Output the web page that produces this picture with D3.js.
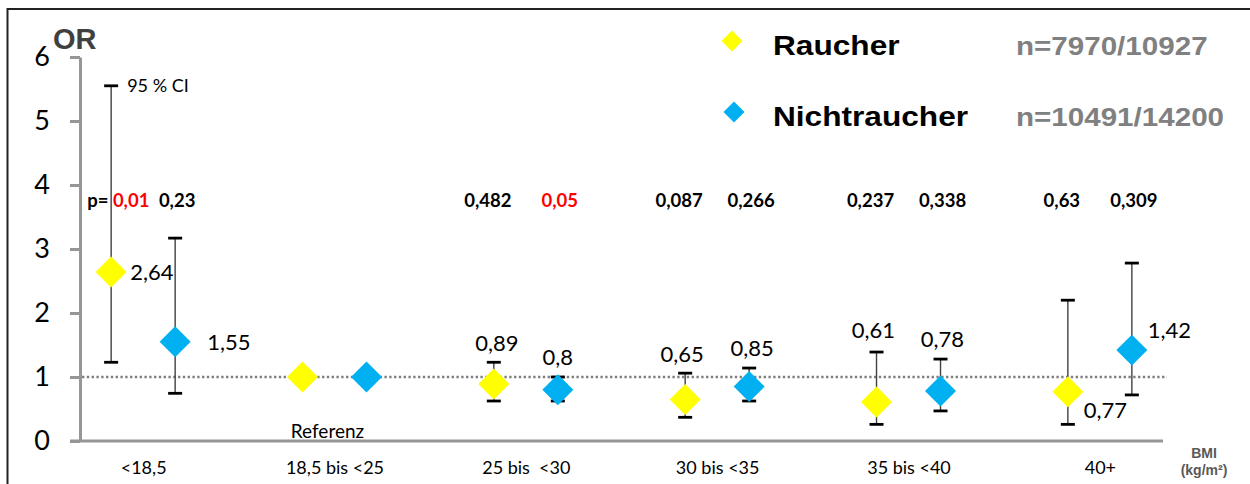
<!DOCTYPE html>
<html>
<head>
<meta charset="utf-8">
<script src="https://cdn.jsdelivr.net/npm/d3@7/dist/d3.min.js"></script>
<style>
  html, body { margin: 0; padding: 0; background: #fff; }
  svg { display: block; }
</style>
</head>
<body>
<svg id="chart" width="1250" height="484"></svg>
<script>
// ---------------- data ----------------
const categories = ["<18,5", "18,5 bis <25", "25 bis  <30", "30 bis <35", "35 bis <40", "40+"];
const seriesNames = ["Raucher", "Nichtraucher"];
const seriesN = ["n=7970/10927", "n=10491/14200"];
const rauchOR   = [2.64, 1, 0.89, 0.65, 0.61, 0.77];
const rauchLow  = [1.23, null, 0.625, 0.37, 0.26, 0.26];
const rauchHigh = [5.55, null, 1.23, 1.06, 1.39, 2.20];
const nichtOR   = [1.55, 1, 0.80, 0.85, 0.78, 1.42];
const nichtLow  = [0.745, null, 0.625, 0.625, 0.47, 0.72];
const nichtHigh = [3.17, null, 1.00, 1.14, 1.28, 2.78];
const rauchP = ["0,01", "", "0,482", "0,087", "0,237", "0,63"];
const nichtP = ["0,23", "", "0,05", "0,266", "0,338", "0,309"];
const rauchLabels = ["2,64", "", "0,89", "0,65", "0,61", "0,77"];
const nichtLabels = ["1,55", "", "0,8", "0,85", "0,78", "1,42"];
const yTicks = [0, 1, 2, 3, 4, 5, 6];
const referenceValue = 1;

// ---------------- layout / style ----------------
const colors = { Raucher: "#FFFF00", Nichtraucher: "#00B0F0" };
// label placement per point: [anchor, dx, dy relative (marker y or upper CI for "above")]
const labelLayout = {
  Raucher:      [["right", 19, 8], null, ["above", 3, -11], ["above", -3, -11], ["above", -3, -14], ["right", 16, 26]],
  Nichtraucher: [["right", 32, 8], null, ["above", 0, -12], ["above", 3, -12], ["above", 2, -12], ["right", 16, -12]]
};
const pDx = { Raucher: -6, Nichtraucher: 2 };

const series = [
  { name: "Raucher", or: rauchOR, low: rauchLow, high: rauchHigh, p: rauchP, lab: rauchLabels },
  { name: "Nichtraucher", or: nichtOR, low: nichtLow, high: nichtHigh, p: nichtP, lab: nichtLabels }
];

const svg = d3.select("#chart");

// frame
svg.append("rect").attr("x", 7.5).attr("y", 9).attr("width", 1300).attr("height", 600)
  .attr("fill", "none").attr("stroke", "#222").attr("stroke-width", 2);

const plotLeft = 80, plotRight = 1163, plotTop = 57, plotBottom = 441;

const y = d3.scaleLinear().domain([0, 6]).range([plotBottom, plotTop]);
const x = d3.scalePoint().domain(categories).range([plotLeft, plotRight]).padding(0.33);
const xo = d3.scalePoint().domain(seriesNames).range([-32, 32]);

const axisColor = "#969696";

// y axis
const yAxis = svg.append("g").attr("transform", `translate(${plotLeft},0)`)
  .call(d3.axisLeft(y).tickValues(yTicks).tickFormat(d3.format("d")).tickSize(10).tickPadding(20).tickSizeOuter(0));
yAxis.select(".domain").attr("stroke", axisColor).attr("stroke-width", 3);
yAxis.selectAll(".tick line").attr("stroke", axisColor).attr("stroke-width", 3);
yAxis.selectAll(".tick text").attr("font-family", "Lato, sans-serif").attr("font-size", 27).attr("fill", "#000");

// x axis line
svg.append("line").attr("x1", plotLeft - 10).attr("x2", plotRight)
  .attr("y1", y(0)).attr("y2", y(0)).attr("stroke", axisColor).attr("stroke-width", 3);

// category labels
const xAxis = svg.append("g").attr("transform", `translate(0,${y(0)})`)
  .call(d3.axisBottom(x).tickSize(0).tickPadding(20));
xAxis.select(".domain").remove();
xAxis.selectAll(".tick text").attr("font-family", "Lato, sans-serif").attr("font-size", 18)
  .attr("fill", "#000").style("white-space", "pre");

// reference line
svg.append("line").attr("x1", plotLeft + 2).attr("x2", plotRight + 4)
  .attr("y1", y(referenceValue)).attr("y2", y(referenceValue))
  .attr("stroke", "#808080").attr("stroke-width", 2.6).attr("stroke-dasharray", "2.4,2.4");

// "OR" title
svg.append("text").attr("x", 53).attr("y", 49).attr("font-family", "Liberation Sans, Arial, sans-serif")
  .attr("font-weight", "bold").attr("font-size", 29).attr("fill", "#404040").text("OR");

// error bars
const capW = 7;
series.forEach(s => {
  const g = svg.append("g");
  categories.forEach((c, i) => {
    if (s.low[i] == null) return;
    const cx = x(c) + xo(s.name);
    g.append("line").attr("x1", cx).attr("x2", cx).attr("y1", y(s.low[i])).attr("y2", y(s.high[i]))
      .attr("stroke", "#404040").attr("stroke-width", 1.4);
    [s.low[i], s.high[i]].forEach(v => {
      g.append("line").attr("x1", cx - capW).attr("x2", cx + capW).attr("y1", y(v)).attr("y2", y(v))
        .attr("stroke", "#000").attr("stroke-width", 2.8);
    });
  });
});

// markers
const diamond = d3.symbol(d3.symbolSquare, 480);
series.forEach(s => {
  svg.append("g").selectAll("path").data(categories).join("path")
    .attr("d", diamond)
    .attr("transform", (c, i) => `translate(${x(c) + xo(s.name)},${y(s.or[i])}) rotate(45)`)
    .attr("fill", colors[s.name]);
});

// data labels
series.forEach(s => {
  categories.forEach((c, i) => {
    const L = labelLayout[s.name][i];
    if (!L || !s.lab[i]) return;
    const cx = x(c) + xo(s.name);
    const t = svg.append("text").attr("font-family", "Lato, sans-serif").attr("font-size", 22).attr("fill", "#000").text(s.lab[i]);
    if (L[0] === "above") {
      t.attr("x", cx + L[1]).attr("y", y(s.high[i]) + L[2]).attr("text-anchor", "middle");
    } else {
      t.attr("x", cx + L[1]).attr("y", y(s.or[i]) + L[2]).attr("text-anchor", "start");
    }
  });
});

// "95 % CI"
svg.append("text").attr("x", x(categories[0]) + xo("Raucher") + 16).attr("y", y(rauchHigh[0]) + 6)
  .attr("font-family", "Lato, sans-serif").attr("font-size", 18).attr("fill", "#000").text("95 % CI");

// "Referenz"
svg.append("text").attr("x", x(categories[1]) - 7).attr("y", y(0) - 3).attr("text-anchor", "middle")
  .attr("font-family", "Lato, sans-serif").attr("font-size", 19).attr("fill", "#000").text("Referenz");

// p-values
const pY = 207;
const parseP = s => +s.replace(",", ".");
series.forEach(s => {
  categories.forEach((c, i) => {
    if (!s.p[i]) return;
    const cx = x(c) + xo(s.name);
    const red = parseP(s.p[i]) <= 0.05;
    const t = svg.append("text").attr("y", pY).attr("font-family", "Lato, sans-serif")
      .attr("font-weight", "bold").attr("font-size", 18.5);
    if (i === 0 && s.name === "Raucher") {
      t.attr("x", cx - 24).attr("text-anchor", "start");
      t.append("tspan").attr("fill", "#000").text("p= ");
      t.append("tspan").attr("fill", red ? "#FF0000" : "#000").text(s.p[i]);
    } else {
      t.attr("x", cx + pDx[s.name]).attr("text-anchor", "middle")
        .attr("fill", red ? "#FF0000" : "#000").text(s.p[i]);
    }
  });
});

// legend
const legendRows = [41, 112];
const legSym = d3.symbol(d3.symbolSquare, 220);
series.forEach((s, k) => {
  const ly = legendRows[k];
  svg.append("path").attr("d", legSym).attr("transform", `translate(${732 + k * 2},${ly}) rotate(45)`)
    .attr("fill", colors[s.name]);
  svg.append("text").attr("transform", `translate(773,${ly + 14}) scale(1.13,1)`)
    .attr("font-family", "Liberation Sans, Arial, sans-serif").attr("font-weight", "bold")
    .attr("font-size", 28).attr("fill", "#000").text(s.name);
  svg.append("text").attr("transform", `translate(1016,${ly + 14}) scale(1.16,1)`)
    .attr("font-family", "Liberation Sans, Arial, sans-serif").attr("font-weight", "bold")
    .attr("font-size", 25.5).attr("fill", "#808080").text(seriesN[k]);
});

// BMI axis title
const bmi = svg.append("text").attr("text-anchor", "middle").attr("font-family", "Liberation Sans, Arial, sans-serif")
  .attr("font-weight", "bold").attr("font-size", 14).attr("fill", "#595959");
bmi.append("tspan").attr("x", 1204).attr("y", 458).text("BMI");
bmi.append("tspan").attr("x", 1204).attr("y", 475).text("(kg/m²)");
</script>
</body>
</html>
